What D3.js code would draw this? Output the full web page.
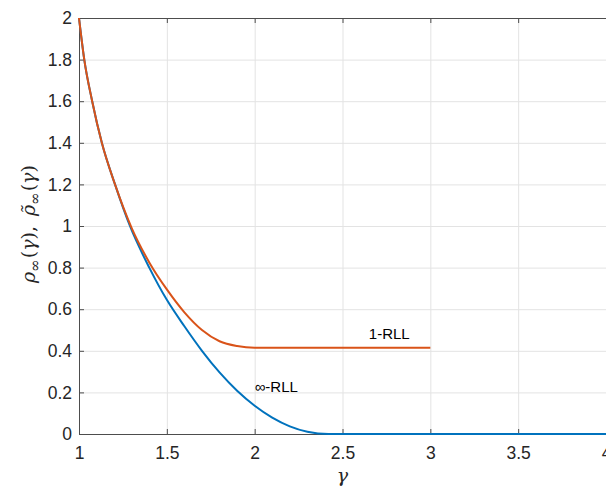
<!DOCTYPE html>
<html>
<head>
<meta charset="utf-8">
<script src="https://cdn.jsdelivr.net/npm/d3@7"></script>
<style>
  body { margin: 0; background: #fff; }
  .graph__axis text { font-family: 'Liberation Sans', Arial, sans-serif; font-size: 17.5px; fill: #262626; }
  .graph__axis path, .graph__axis line { stroke: #4d4d4d; }
  .graph__grid line { stroke: #e3e3e3; stroke-width: 1; }
  .graph__note { font-family: 'Liberation Sans', Arial, sans-serif; font-size: 15px; fill: #000; }
  .graph__label { font-family: 'DejaVu Serif', 'Liberation Serif', serif; font-style: italic; font-size: 19px; fill: #262626; }
</style>
</head>
<body>
<div id="graph"></div>
<script>
// values
const gammaInf = [1, 1.03, 1.075, 1.13, 1.205, 1.29, 1.4, 1.5, 1.6, 1.7, 1.8, 1.9, 2.0, 2.1, 2.2, 2.3, 2.42, 3, 4];
const rhoInf = [2, 1.8, 1.6, 1.4, 1.2, 1.0, 0.8, 0.645, 0.518, 0.4, 0.296, 0.208, 0.136, 0.079, 0.037, 0.011, 0, 0, 0];
const gammaOne = [1, 1.03, 1.075, 1.13, 1.205, 1.3, 1.4, 1.5, 1.6, 1.7, 1.8, 1.9, 2, 3];
const rhoOne = [2, 1.8, 1.6, 1.4, 1.2, 0.99, 0.825, 0.695, 0.585, 0.5, 0.446, 0.423, 0.415, 0.415];
const xTicks = [1, 1.5, 2, 2.5, 3, 3.5, 4];
const yTicks = [0, 0.2, 0.4, 0.6, 0.8, 1, 1.2, 1.4, 1.6, 1.8, 2];
const notes = [
  { text: '1-RLL', x: 2.65, y: 0.455 },
  { text: '\u221e-RLL', x: 2.0, y: 0.2 },
];

const margins = { top: 18, right: 0, bottom: 54, left: 79 };
const canvasWidth = 606;
const canvasHeight = 488;
const width = canvasWidth - margins.left - margins.right;
const height = canvasHeight - margins.top - margins.bottom;

const svg = d3.select('#graph')
  .append('svg')
    .attr('width', canvasWidth)
    .attr('height', canvasHeight);

const graph = svg.append('g')
  .attr('transform', `translate(${margins.left}, ${margins.top})`);

const scaleX = d3.scaleLinear().domain([1, 4]).range([0, width]);
const scaleY = d3.scaleLinear().domain([0, 2]).range([height, 0]);

// grid
const grid = graph.append('g').attr('class', 'graph__grid');
grid.selectAll('.gx').data(xTicks.slice(1, -1)).enter()
  .append('line')
    .attr('x1', d => scaleX(d) + 0.5).attr('x2', d => scaleX(d) + 0.5)
    .attr('y1', 0).attr('y2', height);
grid.selectAll('.gy').data(yTicks.slice(1, -1)).enter()
  .append('line')
    .attr('x1', 0).attr('x2', width)
    .attr('y1', d => scaleY(d) + 0.5).attr('y2', d => scaleY(d) + 0.5);

const fmt = d => String(+d.toFixed(1));

// axes (ticks inside, box on)
graph.append('g')
  .attr('class', 'graph__axis')
  .attr('transform', `translate(0, ${height})`)
  .call(d3.axisBottom(scaleX).tickValues(xTicks).tickFormat(fmt).tickSizeInner(-5).tickSizeOuter(0).tickPadding(13));
graph.append('g')
  .attr('class', 'graph__axis')
  .call(d3.axisTop(scaleX).tickValues(xTicks).tickFormat('').tickSizeInner(-5).tickSizeOuter(0));
graph.append('g')
  .attr('class', 'graph__axis')
  .call(d3.axisLeft(scaleY).tickValues(yTicks).tickFormat(fmt).tickSizeInner(-5).tickSizeOuter(0).tickPadding(7));

// curves
const line = d3.line()
  .x(d => scaleX(d[0]))
  .y(d => scaleY(d[1]))
  .curve(d3.curveMonotoneX);

graph.append('path')
  .datum(d3.zip(gammaInf, rhoInf))
  .attr('fill', 'none')
  .attr('stroke', '#0072bd')
  .attr('stroke-width', 2)
  .attr('d', line);

graph.append('path')
  .datum(d3.zip(gammaOne, rhoOne))
  .attr('fill', 'none')
  .attr('stroke', '#d95319')
  .attr('stroke-width', 2)
  .attr('d', line);

// curve notes
graph.selectAll('.graph__note')
  .data(notes).enter()
  .append('text')
    .attr('class', 'graph__note')
    .attr('x', d => scaleX(d.x))
    .attr('y', d => scaleY(d.y))
    .text(d => d.text);

// axis labels
svg.append('text')
  .attr('class', 'graph__label')
  .attr('x', margins.left + width / 2)
  .attr('y', 482)
  .attr('text-anchor', 'middle')
  .text('\u03b3');

const yLabel = svg.append('text')
  .attr('class', 'graph__label')
  .attr('font-size', 21)
  .attr('transform', `translate(35, ${margins.top + height / 2 - 2}) rotate(-90)`)
  .attr('text-anchor', 'middle');
yLabel.append('tspan').text('\u03c1');
yLabel.append('tspan').attr('dy', 5).attr('font-size', 15).attr('font-style', 'normal').text('\u221e');
yLabel.append('tspan').attr('dy', -5).attr('dx', 1).attr('font-style', 'normal').text('(');
yLabel.append('tspan').text('\u03b3');
yLabel.append('tspan').attr('font-style', 'normal').text('),');
yLabel.append('tspan').attr('dx', 10).text('\u03c1\u0303');
yLabel.append('tspan').attr('dy', 5).attr('font-size', 15).attr('font-style', 'normal').text('\u221e');
yLabel.append('tspan').attr('dy', -5).attr('dx', 1).attr('font-style', 'normal').text('(');
yLabel.append('tspan').text('\u03b3');
yLabel.append('tspan').attr('font-style', 'normal').text(')');
</script>
</body>
</html>
